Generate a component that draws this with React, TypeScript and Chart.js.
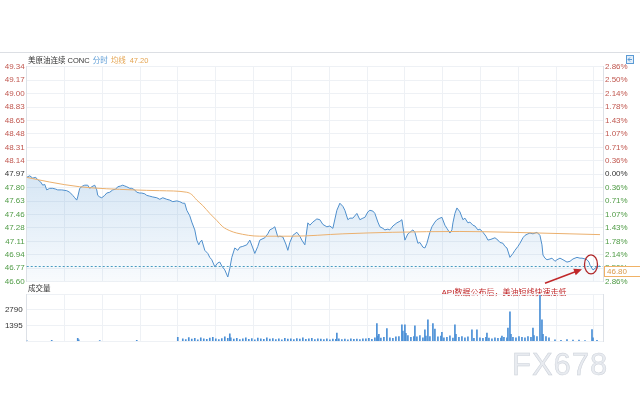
import React, { useEffect, useRef } from 'react';
import { Chart, registerables } from 'chart.js';

Chart.register(...registerables);

const FONT = 'Arial, "Liberation Sans", "Noto Sans CJK SC", sans-serif';
const RED = '#c0574f';
const GREEN = '#4f9b45';
const GRAY = '#333333';
const GRID = '#eef1f5';
const AXIS = '#dde1e7';
const LINE = '#4f8fcc';
const AVG = '#ebb06e';

// ---------- data ----------
const legendName = '美原油连续 CONC';
const legendLine = '分时';
const legendAvg = '均线';
const volumeTitle = '成交量';
const annotationText = 'API数据公布后，美油短线快速走低';
const watermark = 'FX678';

const priceTickLabels = ['49.34', '49.17', '49.00', '48.83', '48.65', '48.48', '48.31', '48.14', '47.97', '47.80', '47.63', '47.46', '47.28', '47.11', '46.94', '46.77', '46.60'];
const pctTickLabels = ['2.86%', '2.50%', '2.14%', '1.78%', '1.43%', '1.07%', '0.71%', '0.36%', '0.00%', '0.36%', '0.71%', '1.07%', '1.43%', '1.78%', '2.14%', '2.50%', '2.86%'];
const baseLabel = '47.97';
const volTickLabels = ['1395', '2790'];
const PRICE_MIN = 46.6;
const PRICE_MAX = 49.34;
const VOL_MAX = 4185;
const T_MAX = 576;
const lastPrice = 46.8;

const priceTimes = [0, 3, 6, 9, 11, 14, 16, 18, 20, 23, 26, 29, 31, 35, 40, 43, 46, 48, 50, 51, 53, 56, 58, 61, 63, 65, 68, 70, 71, 73, 75, 78, 80, 83, 86, 89, 91, 94, 96, 98, 100, 103, 105, 108, 110, 113, 115, 118, 120, 123, 126, 130, 133, 136, 140, 143, 146, 150, 153, 156, 158, 160, 163, 165, 168, 170, 172, 173, 175, 178, 181, 183, 185, 188, 191, 193, 195, 198, 201, 203, 205, 208, 211, 213, 216, 220, 223, 226, 228, 231, 233, 238, 241, 243, 246, 248, 251, 253, 256, 259, 261, 263, 266, 270, 273, 275, 278, 281, 283, 286, 290, 293, 296, 300, 303, 306, 310, 313, 316, 318, 321, 323, 326, 330, 333, 336, 338, 341, 343, 346, 348, 351, 353, 356, 358, 361, 363, 366, 370, 373, 375, 378, 381, 383, 386, 388, 391, 393, 396, 398, 400, 403, 405, 408, 410, 413, 415, 418, 420, 423, 425, 426, 428, 430, 433, 436, 438, 441, 443, 446, 448, 451, 453, 456, 459, 461, 464, 468, 471, 473, 476, 478, 480, 483, 486, 488, 491, 493, 496, 498, 501, 503, 506, 510, 513, 515, 516, 518, 520, 523, 525, 528, 530, 533, 536, 540, 543, 546, 550, 553, 555, 558, 560, 562, 563, 565, 566, 568, 570, 573];
const priceValues = [47.93, 47.95, 47.92, 47.93, 47.9, 47.87, 47.83, 47.84, 47.77, 47.79, 47.79, 47.78, 47.77, 47.77, 47.76, 47.74, 47.7, 47.67, 47.64, 47.68, 47.79, 47.82, 47.83, 47.83, 47.79, 47.81, 47.83, 47.77, 47.7, 47.68, 47.67, 47.7, 47.73, 47.74, 47.77, 47.78, 47.81, 47.82, 47.83, 47.82, 47.81, 47.79, 47.79, 47.77, 47.74, 47.73, 47.73, 47.72, 47.7, 47.69, 47.68, 47.67, 47.65, 47.67, 47.65, 47.64, 47.62, 47.63, 47.62, 47.6, 47.6, 47.51, 47.44, 47.36, 47.26, 47.13, 47.07, 47.1, 47.13, 47.0, 46.96, 46.91, 46.88, 46.79, 46.84, 46.85, 46.8, 46.75, 46.66, 46.77, 46.91, 47.03, 47.0, 47.04, 47.05, 47.07, 47.13, 47.03, 46.96, 47.05, 47.13, 47.16, 47.21, 47.26, 47.28, 47.3, 47.17, 47.18, 47.17, 47.08, 47.0, 47.1, 47.19, 47.23, 47.18, 47.13, 47.07, 47.35, 47.32, 47.36, 47.4, 47.39, 47.33, 47.3, 47.31, 47.28, 47.51, 47.6, 47.56, 47.51, 47.39, 47.41, 47.41, 47.47, 47.39, 47.41, 47.42, 47.49, 47.51, 47.5, 47.47, 47.36, 47.3, 47.28, 47.26, 47.27, 47.26, 47.31, 47.35, 47.37, 47.39, 47.13, 47.21, 47.23, 47.26, 47.23, 47.09, 47.1, 47.04, 47.03, 47.09, 47.23, 47.3, 47.36, 47.39, 47.41, 47.42, 47.32, 47.28, 47.22, 47.26, 47.35, 47.47, 47.54, 47.49, 47.39, 47.41, 47.35, 47.36, 47.32, 47.31, 47.26, 47.27, 47.23, 47.18, 47.13, 47.14, 47.16, 47.13, 47.1, 47.09, 47.05, 47.03, 46.91, 46.96, 47.0, 47.05, 47.09, 47.16, 47.19, 47.21, 47.22, 47.21, 47.23, 47.19, 47.07, 46.94, 46.9, 46.88, 46.89, 46.9, 46.86, 46.88, 46.9, 46.88, 46.85, 46.86, 46.89, 46.91, 46.9, 46.9, 46.89, 46.88, 46.85, 46.81, 46.77, 46.75, 46.77, 46.79, 46.8];

const avgTimes = [0, 23, 53, 106, 133, 160, 165, 170, 176, 183, 190, 196, 203, 210, 233, 266, 316, 366, 433, 483, 513, 543, 573];
const avgValues = [47.93, 47.87, 47.81, 47.77, 47.76, 47.74, 47.71, 47.64, 47.57, 47.47, 47.38, 47.3, 47.25, 47.22, 47.18, 47.18, 47.21, 47.23, 47.24, 47.23, 47.22, 47.21, 47.2];

const volTimes = [0, 25, 51, 52, 73, 110, 151, 156, 159, 162, 165, 168, 171, 174, 177, 180, 183, 186, 189, 192, 195, 198, 201, 203, 204, 207, 210, 213, 216, 219, 222, 225, 228, 231, 234, 237, 240, 243, 246, 249, 252, 255, 258, 261, 264, 267, 270, 273, 276, 279, 282, 285, 288, 291, 294, 297, 300, 303, 306, 309, 310, 312, 315, 318, 321, 324, 327, 330, 333, 336, 339, 342, 345, 348, 350, 351, 352, 354, 357, 360, 363, 366, 369, 372, 375, 376, 378, 379, 381, 384, 387, 388, 390, 393, 396, 398, 399, 401, 403, 406, 408, 411, 414, 415, 417, 420, 423, 426, 428, 429, 432, 435, 438, 441, 445, 447, 450, 453, 456, 459, 460, 462, 465, 468, 471, 474, 475, 477, 480, 481, 483, 484, 486, 489, 492, 495, 498, 501, 504, 506, 507, 510, 513, 515, 516, 519, 522, 528, 534, 540, 546, 552, 558, 565, 566, 570];
const volValues = [60, 80, 260, 120, 60, 70, 350, 200, 150, 320, 180, 260, 120, 300, 220, 160, 280, 340, 200, 150, 240, 380, 260, 650, 300, 180, 260, 140, 220, 300, 160, 240, 120, 280, 200, 160, 300, 180, 240, 150, 200, 120, 260, 180, 220, 140, 240, 180, 300, 160, 200, 260, 150, 220, 180, 140, 200, 120, 180, 160, 720, 220, 150, 180, 120, 200, 160, 180, 140, 220, 200, 260, 160, 300, 1570, 450, 600, 280, 350, 1130, 300, 250, 380, 420, 1450, 900, 1450, 700, 500, 350, 420, 1360, 380, 500, 300, 1000, 450, 1890, 400, 1570, 1070, 380, 450, 780, 300, 350, 480, 280, 1450, 600, 350, 420, 300, 380, 1000, 250, 1000, 300, 250, 350, 720, 280, 200, 300, 250, 280, 450, 350, 300, 1160, 2610, 600, 350, 300, 400, 350, 300, 400, 350, 1160, 500, 400, 4060, 1890, 600, 400, 300, 120, 80, 150, 100, 90, 60, 1040, 300, 80];

// annotation anchors (time, price)
const circleAt = { t: 564, price: 46.82 };
const arrowFrom = { t: 518, price: 46.58 };
const arrowTo = { t: 555, price: 46.76 };
const textAt = { t: 477, price: 46.46 };

const GRID_STEP = 37.8;

function xGridTicks(scale: any) {
  const ticks: any[] = [];
  for (let v = 0; v <= T_MAX + 0.01; v += GRID_STEP) ticks.push({ value: v });
  scale.ticks = ticks;
}

function evenTicks(labels: string[]) {
  return (scale: any) => {
    const n = labels.length;
    scale.ticks = labels.map((_, i) => ({ value: PRICE_MIN + (i * (PRICE_MAX - PRICE_MIN)) / (n - 1) }));
  };
}

function labelColor(labels: string[]) {
  const baseIdx = priceTickLabels.indexOf(baseLabel);
  return (ctx: any) => {
    const k = labels.length - 1 - ctx.index;
    return k < baseIdx ? RED : k === baseIdx ? GRAY : GREEN;
  };
}

export default function App() {
  const priceRef = useRef<HTMLCanvasElement>(null);
  const volRef = useRef<HTMLCanvasElement>(null);

  useEffect(() => {
    Chart.defaults.font.family = FONT;
    Chart.defaults.font.size = 8;

    const overlay = {
      id: 'overlay',
      afterDraw(chart: any) {
        const c = chart.ctx;
        const xs = chart.scales.x;
        const ys = chart.scales.y;
        const area = chart.chartArea;
        c.save();
        // top border line
        c.strokeStyle = '#dcdfe4';
        c.lineWidth = 1;
        c.beginPath();
        c.moveTo(0, 52.5);
        c.lineTo(640, 52.5);
        c.stroke();

        // legend
        c.font = `7.5px ${FONT}`;
        c.textBaseline = 'middle';
        c.textAlign = 'left';
        let x = 28;
        const y = 61;
        const seg = (txt: string, col: string, gap: number) => {
          c.fillStyle = col;
          c.fillText(txt, x, y);
          x += c.measureText(txt).width + gap;
        };
        seg(legendName, '#333333', 3);
        seg(legendLine, '#5b9bd5', 3);
        seg(legendAvg, '#e5a552', 4);
        seg(avgValues[avgValues.length - 1].toFixed(2), '#e5a552', 0);

        // top-right icon
        c.fillStyle = '#e3eef9';
        c.strokeStyle = '#5b9bd5';
        c.fillRect(626.5, 55.5, 7, 8);
        c.strokeRect(626.5, 55.5, 7, 8);
        c.beginPath();
        c.moveTo(628, 59.5);
        c.lineTo(632, 59.5);
        c.moveTo(628, 59.5);
        c.lineTo(630, 57.5);
        c.moveTo(628, 59.5);
        c.lineTo(630, 61.5);
        c.stroke();

        // dashed last price line
        const py = Math.round(ys.getPixelForValue(lastPrice)) + 0.5;
        c.strokeStyle = '#4a9bc0';
        c.setLineDash([2, 2]);
        c.beginPath();
        c.moveTo(area.left, py);
        c.lineTo(area.right, py);
        c.stroke();
        c.setLineDash([]);

        // last price box
        c.fillStyle = '#ffffff';
        c.fillRect(area.right + 1, py - 0.5, 40, 10);
        c.strokeStyle = '#f0b266';
        c.strokeRect(area.right + 1.5, py, 40, 10);
        c.fillStyle = '#d99a4a';
        c.font = `8px ${FONT}`;
        c.textBaseline = 'middle';
        c.fillText(lastPrice.toFixed(2), area.right + 4, py + 5.5);

        // annotation ellipse
        c.strokeStyle = '#b0282a';
        c.lineWidth = 1.3;
        c.beginPath();
        c.ellipse(xs.getPixelForValue(circleAt.t), ys.getPixelForValue(circleAt.price), 6.5, 9.5, 0, 0, Math.PI * 2);
        c.stroke();

        // arrow
        const ax0 = xs.getPixelForValue(arrowFrom.t);
        const ay0 = ys.getPixelForValue(arrowFrom.price);
        const ax1 = xs.getPixelForValue(arrowTo.t);
        const ay1 = ys.getPixelForValue(arrowTo.price);
        const ang = Math.atan2(ay1 - ay0, ax1 - ax0);
        const hl = 8;
        c.strokeStyle = '#c0282a';
        c.fillStyle = '#c0282a';
        c.lineWidth = 1.5;
        c.beginPath();
        c.moveTo(ax0, ay0);
        c.lineTo(ax1 - Math.cos(ang) * hl * 0.8, ay1 - Math.sin(ang) * hl * 0.8);
        c.stroke();
        c.beginPath();
        c.moveTo(ax1, ay1);
        c.lineTo(ax1 - hl * Math.cos(ang) + 3.5 * Math.sin(ang), ay1 - hl * Math.sin(ang) - 3.5 * Math.cos(ang));
        c.lineTo(ax1 - hl * Math.cos(ang) - 3.5 * Math.sin(ang), ay1 - hl * Math.sin(ang) + 3.5 * Math.cos(ang));
        c.closePath();
        c.fill();

        // annotation text
        c.font = `8px ${FONT}`;
        c.textAlign = 'center';
        c.fillStyle = '#c0282a';
        c.fillText(annotationText, xs.getPixelForValue(textAt.t), ys.getPixelForValue(textAt.price));
        c.restore();
      },
    };

    const price = new Chart(priceRef.current as HTMLCanvasElement, {
      type: 'line',
      data: {
        datasets: [
          {
            label: legendAvg,
            data: avgTimes.map((t, i) => ({ x: t, y: avgValues[i] })),
            borderColor: AVG,
            borderWidth: 1,
            pointRadius: 0,
            fill: false,
            cubicInterpolationMode: 'monotone',
            order: 1,
          },
          {
            label: legendLine,
            data: priceTimes.map((t, i) => ({ x: t, y: priceValues[i] })),
            borderColor: LINE,
            borderWidth: 1,
            pointRadius: 0,
            tension: 0,
            fill: 'start',
            order: 2,
            backgroundColor: (ctx: any) => {
              const { chart } = ctx;
              const area = chart.chartArea;
              if (!area) return 'rgba(91,155,213,0.2)';
              const g = chart.ctx.createLinearGradient(0, area.top, 0, area.bottom);
              g.addColorStop(0, 'rgba(91,155,213,0.45)');
              g.addColorStop(0.5, 'rgba(91,155,213,0.25)');
              g.addColorStop(1, 'rgba(91,155,213,0.04)');
              return g;
            },
          },
        ],
      },
      options: {
        responsive: false,
        animation: false,
        devicePixelRatio: 1,
        layout: { padding: { top: 66.7, bottom: 300 - 281.7, left: 0, right: 0 } },
        plugins: { legend: { display: false }, tooltip: { enabled: false } },
        scales: {
          x: {
            type: 'linear',
            min: 0,
            max: T_MAX,
            ticks: { display: false },
            grid: { color: GRID, drawTicks: false },
            border: { display: false },
            afterBuildTicks: xGridTicks,
            afterFit: (s: any) => { s.height = 0; },
          },
          y: {
            position: 'left',
            min: PRICE_MIN,
            max: PRICE_MAX,
            afterBuildTicks: evenTicks(priceTickLabels),
            afterFit: (s: any) => { s.width = 26.7; },
            ticks: {
              autoSkip: false,
              padding: 2,
              color: labelColor(priceTickLabels),
              callback: (_v: any, i: number) => priceTickLabels[priceTickLabels.length - 1 - i],
            },
            grid: { color: GRID, drawTicks: false },
            border: { color: AXIS },
          },
          yR: {
            position: 'right',
            min: PRICE_MIN,
            max: PRICE_MAX,
            afterBuildTicks: evenTicks(pctTickLabels),
            afterFit: (s: any) => { s.width = 37; },
            ticks: {
              autoSkip: false,
              padding: 2,
              color: labelColor(pctTickLabels),
              callback: (_v: any, i: number) => pctTickLabels[pctTickLabels.length - 1 - i],
            },
            grid: { display: false, drawTicks: false },
            border: { color: AXIS },
          },
        },
      },
      plugins: [overlay],
    } as any);

    const volOverlay = {
      id: 'volOverlay',
      afterDraw(chart: any) {
        const c = chart.ctx;
        c.save();
        c.font = `7.5px ${FONT}`;
        c.fillStyle = '#333333';
        c.textBaseline = 'middle';
        c.textAlign = 'left';
        c.fillText(volumeTitle, 28, 5);
        c.restore();
      },
    };

    const vol = new Chart(volRef.current as HTMLCanvasElement, {
      type: 'bar',
      data: {
        datasets: [
          {
            data: volTimes.map((t, i) => ({ x: t, y: volValues[i] })),
            backgroundColor: '#4a8fd6',
            barThickness: 1,
          },
        ],
      },
      options: {
        responsive: false,
        animation: false,
        devicePixelRatio: 1,
        layout: { padding: { top: 10, bottom: 8, left: 0, right: 0 } },
        plugins: { legend: { display: false }, tooltip: { enabled: false } },
        scales: {
          x: {
            type: 'linear',
            min: 0,
            max: T_MAX,
            offset: false,
            ticks: { display: false },
            grid: { color: GRID, drawTicks: false, offset: false },
            border: { display: false },
            afterBuildTicks: xGridTicks,
            afterFit: (s: any) => { s.height = 0; },
          },
          y: {
            position: 'left',
            min: 0,
            max: VOL_MAX,
            afterBuildTicks: (s: any) => {
              s.ticks = [0, ...volTickLabels.map(Number), VOL_MAX].map((v) => ({ value: v }));
            },
            afterFit: (s: any) => { s.width = 26.7; },
            ticks: {
              autoSkip: false,
              padding: 4,
              color: '#333333',
              callback: (v: any) => (volTickLabels.includes(String(v)) ? String(v) : ''),
            },
            grid: { color: GRID, drawTicks: false },
            border: { color: AXIS },
          },
          yR: {
            position: 'right',
            min: 0,
            max: VOL_MAX,
            afterFit: (s: any) => { s.width = 37; },
            ticks: { display: false },
            grid: { display: false, drawTicks: false },
            border: { color: AXIS },
          },
        },
      },
      plugins: [volOverlay],
    } as any);

    return () => {
      price.destroy();
      vol.destroy();
    };
  }, []);

  return (
    <div style={{ position: 'fixed', left: 0, top: 0, width: 640, height: 400, background: '#ffffff', overflow: 'hidden' }}>
      <canvas ref={priceRef} width={640} height={300} style={{ position: 'absolute', left: 0, top: 0, width: 640, height: 300 }} />
      <canvas ref={volRef} width={640} height={66} style={{ position: 'absolute', left: 0, top: 284, width: 640, height: 66 }} />
      <div
        style={{
          position: 'absolute',
          left: 512,
          top: 349,
          fontFamily: 'Arial, "Liberation Sans", sans-serif',
          fontSize: 31,
          lineHeight: '31px',
          letterSpacing: 1,
          color: '#e8ebf0',
          WebkitTextStroke: '0.5px #ccd1d9',
          whiteSpace: 'nowrap',
        }}
      >
        {watermark}
      </div>
    </div>
  );
}
